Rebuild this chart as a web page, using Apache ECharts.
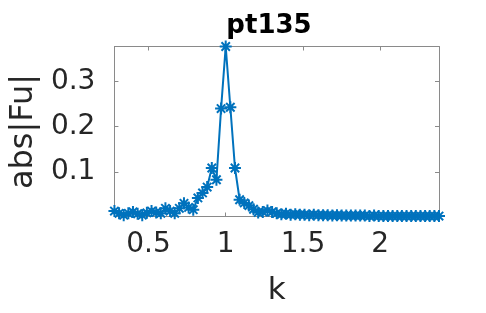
<!DOCTYPE html>
<html>
<head>
<meta charset="utf-8">
<script src="https://cdn.jsdelivr.net/npm/echarts@6/dist/echarts.min.js"></script>
<style>
html,body{margin:0;padding:0;background:#fff;}
#main{width:486px;height:313px;}
</style>
</head>
<body>
<div id="main"></div>
<script>
// k values and abs|Fu|
var kVals = [0.28,0.31,0.34,0.37,0.40,0.43,0.46,0.49,0.52,0.55,
	0.58,0.61,0.64,0.67,0.70,0.73,0.76,0.79,0.82,0.85,
	0.88,0.91,0.94,0.97,1.00,1.03,1.06,1.09,1.12,1.15,
	1.18,1.21,1.24,1.27,1.30,1.33,1.36,1.39,1.42,1.45,
	1.48,1.51,1.54,1.57,1.60,1.63,1.66,1.69,1.72,1.75,
	1.78,1.81,1.84,1.87,1.90,1.93,1.96,1.99,2.02,2.05,
	2.08,2.11,2.14,2.17,2.20,2.23,2.26,2.29,2.32,2.35,2.38];
var fuVals = [0.014,0.009,0.005,0.009,0.012,0.008,0.005,0.010,0.014,0.011,
	0.009,0.020,0.014,0.009,0.020,0.031,0.022,0.017,0.043,0.054,
	0.067,0.109,0.083,0.240,0.377,0.243,0.109,0.039,0.032,0.026,
	0.018,0.011,0.012,0.015,0.012,0.009,0.007,0.008,0.006,0.007,
	0.006,0.006,0.005,0.006,0.005,0.005,0.005,0.004,0.005,0.004,
	0.004,0.004,0.004,0.004,0.004,0.003,0.004,0.003,0.003,0.003,
	0.003,0.003,0.003,0.003,0.003,0.003,0.003,0.003,0.003,0.003,0.003];
var xTicks = [0.5, 1, 1.5, 2];
var yTicks = [0.1, 0.2, 0.3];

var blue = '#0072BD';
var axisGray = '#8a8a8a';
var font = '"DejaVu Sans", sans-serif';

var myChart = echarts.init(document.getElementById('main'));

var data = [];
for (var i = 0; i < kVals.length; i++) {
	data.push([kVals[i], fuVals[i]]);
}

var star = 'path://M0,-1L0,1M-1,0L1,0M-0.7,-0.7L0.7,0.7M-0.7,0.7L0.7,-0.7';

function frameAxis(pos, showLabel, extra) {
	var ax = {
		type: 'value',
		position: pos,
		axisLine: { show: true, onZero: false, lineStyle: { color: axisGray, width: 1 } },
		axisTick: { show: true, inside: true, length: 4, lineStyle: { color: axisGray } },
		splitLine: { show: false },
		axisLabel: { show: showLabel }
	};
	for (var key in extra) ax[key] = extra[key];
	return ax;
}

var xLabel = { show: true, color: '#262626', fontSize: 28, fontFamily: font, margin: 14, customValues: xTicks };
var yLabel = { show: true, color: '#262626', fontSize: 28, fontFamily: font, margin: 19, customValues: yTicks };

var option = {
	animation: false,
	title: {
		text: 'pt135',
		left: 264,
		textAlign: 'center',
		top: 8,
		textStyle: { fontSize: 26, fontWeight: 'bold', color: '#000', fontFamily: font }
	},
	grid: { left: 114, right: 47, top: 46.5, bottom: 96.5 },
	xAxis: [
		frameAxis('bottom', true, {
			min: 0.28, max: 2.38,
			axisLabel: xLabel,
			axisTick: { show: true, inside: true, length: 4, customValues: xTicks, lineStyle: { color: axisGray } },
			name: 'k', nameLocation: 'middle', nameGap: 59,
			nameTextStyle: { fontSize: 31, color: '#262626', fontFamily: font }
		}),
		frameAxis('top', false, {
			min: 0.28, max: 2.38,
			axisTick: { show: true, inside: true, length: 4, customValues: xTicks, lineStyle: { color: axisGray } }
		})
	],
	yAxis: [
		frameAxis('left', true, {
			min: 0.002, max: 0.377,
			axisLabel: yLabel,
			axisTick: { show: true, inside: true, length: 4, customValues: yTicks, lineStyle: { color: axisGray } },
			name: 'abs|Fu|', nameLocation: 'middle', nameGap: 73, nameRotate: 90,
			nameTextStyle: { fontSize: 32, color: '#262626', fontFamily: font }
		}),
		frameAxis('right', false, {
			min: 0.002, max: 0.377,
			axisTick: { show: true, inside: true, length: 4, customValues: yTicks, lineStyle: { color: axisGray } }
		})
	],
	series: [{
		type: 'line',
		data: data,
		clip: false,
		symbol: star,
		symbolSize: 12,
		itemStyle: { color: blue, borderColor: blue, borderWidth: 2 },
		lineStyle: { color: blue, width: 2 }
	}]
};

myChart.setOption(option);
</script>
</body>
</html>
